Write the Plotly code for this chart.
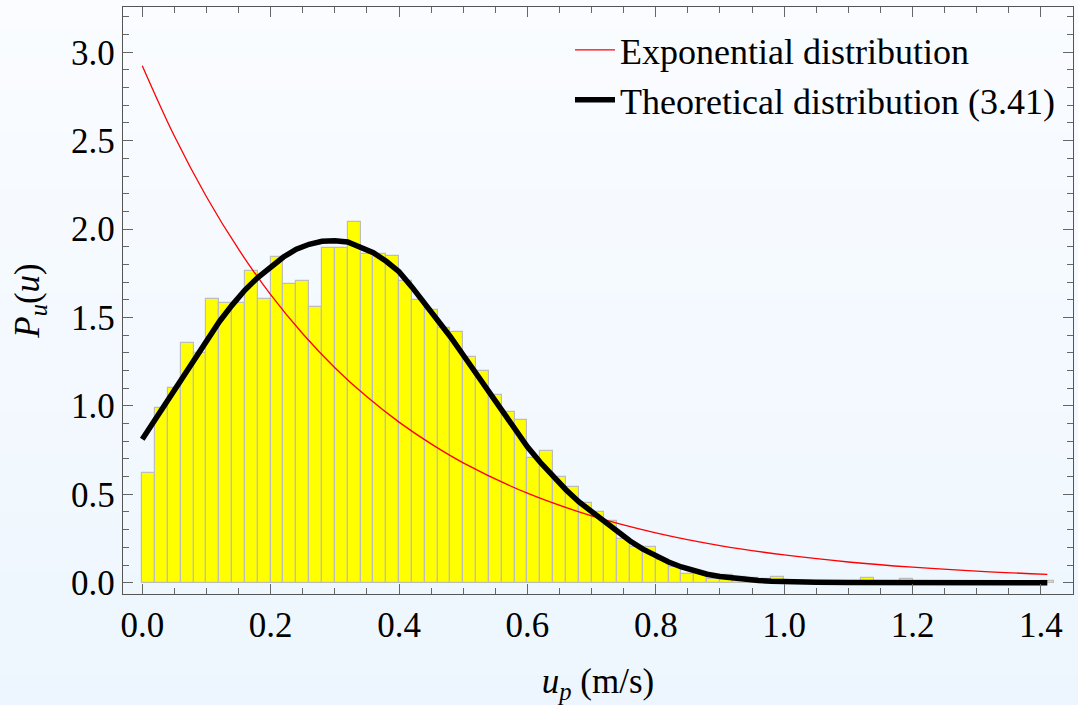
import plotly.graph_objects as go

# ---------------- data ----------------
bin_width = 0.02
bin_left = [round(i * bin_width, 2) for i in range(71)]
bar_heights = [
    0.619, 0.986, 1.103, 1.354, 1.297, 1.605, 1.580, 1.580, 1.763, 1.605,
    1.844, 1.688, 1.706, 1.561, 1.891, 1.891, 2.038, 1.860, 1.860, 1.848,
    1.706, 1.599, 1.542, 1.442, 1.420, 1.275, 1.199, 1.062, 0.967, 0.920,
    0.707, 0.745, 0.596, 0.540, 0.449, 0.402, 0.351, 0.245, 0.200, 0.204,
    0.126, 0.091, 0.048, 0.055, 0.023, 0.044, 0.034, 0.025, 0.020, 0.035,
    0.010, 0.008, 0.006, 0.005, 0.004, 0.004, 0.025, 0.003, 0.003, 0.019,
    0.002, 0.002, 0.002, 0.002, 0.002, 0.002, 0.002, 0.002, 0.002, 0.002,
    0.008,
]

exp_x = [0.0, 0.05, 0.10, 0.15, 0.20, 0.25, 0.30, 0.35, 0.40, 0.45, 0.50,
         0.60, 0.70, 0.80, 0.90, 1.00, 1.10, 1.20, 1.30, 1.41]
exp_y = [2.924, 2.526, 2.183, 1.886, 1.629, 1.408, 1.216, 1.051, 0.908, 0.785,
         0.678, 0.506, 0.378, 0.282, 0.210, 0.157, 0.117, 0.0875, 0.0653, 0.0474]

theo_x = [0.00, 0.02, 0.04, 0.06, 0.08, 0.10, 0.12, 0.14, 0.16, 0.18,
          0.20, 0.22, 0.24, 0.26, 0.28, 0.30, 0.32, 0.34, 0.36, 0.38,
          0.40, 0.42, 0.44, 0.46, 0.48, 0.50, 0.52, 0.54, 0.56, 0.58,
          0.60, 0.62, 0.64, 0.66, 0.68, 0.70, 0.72, 0.74, 0.76, 0.78,
          0.80, 0.82, 0.84, 0.86, 0.88, 0.90, 0.92, 0.94, 0.96, 0.98,
          1.00, 1.05, 1.10, 1.20, 1.30, 1.41]
theo_y = [0.811, 0.921, 1.033, 1.147, 1.260, 1.370, 1.476, 1.570, 1.655, 1.726,
          1.787, 1.842, 1.886, 1.914, 1.931, 1.934, 1.927, 1.900, 1.866, 1.818,
          1.759, 1.673, 1.580, 1.487, 1.391, 1.288, 1.184, 1.080, 0.977, 0.871,
          0.769, 0.681, 0.600, 0.526, 0.458, 0.400, 0.342, 0.287, 0.236, 0.190,
          0.151, 0.117, 0.089, 0.066, 0.048, 0.035, 0.025, 0.017, 0.012, 0.008,
          0.005, 0.003, 0.001, 0.0, 0.0, 0.0]

legend_names = ["Exponential distribution", "Theoretical distribution (3.41)"]
x_title = "<i>u</i><sub><i>p</i></sub> (m/s)"
y_title = "<i>P</i><sub><i>u</i></sub>(<i>u</i>)"

# ---------------- figure ----------------
W, H = 1078, 705
ML, MR, MT, MB = 123, 5, 7, 111
FONT = "Times New Roman, Liberation Serif, Times, serif"

fig = go.Figure()

fig.add_trace(go.Bar(
    x=[b + bin_width / 2 for b in bin_left], y=bar_heights, width=bin_width,
    marker=dict(color="#ffff00", line=dict(color="rgb(190,190,185)", width=1.2)),
    showlegend=False, hoverinfo="skip",
))
fig.add_trace(go.Scatter(
    x=exp_x, y=exp_y, mode="lines", name=legend_names[0],
    line=dict(color="#ff0000", width=1.3, shape="spline"),
))
fig.add_trace(go.Scatter(
    x=theo_x, y=theo_y, mode="lines", name=legend_names[1],
    line=dict(color="#000000", width=5.5),
))

# vertical gradient background via bands
plot_h = H - MT - MB
shapes = []
n = 48
top = (250, 252, 255)
bot = (237, 246, 254)
for i in range(n):
    p0 = H * i / n
    p1 = H * (i + 1) / n
    t = (i + 0.5) / n
    c = tuple(round(top[k] + (bot[k] - top[k]) * t) for k in range(3))
    shapes.append(dict(
        type="rect", xref="paper", yref="paper", layer="below",
        x0=-0.5, x1=1.5,
        y0=(H - MB - p1) / plot_h - 0.001, y1=(H - MB - p0) / plot_h + 0.001,
        fillcolor="rgb(%d,%d,%d)" % c, line=dict(width=0),
    ))

axis_common = dict(
    showgrid=False, zeroline=False, showline=True, linecolor="#555555",
    linewidth=1.3, mirror="ticks", ticks="inside", ticklen=10, tickwidth=1.2,
    tickcolor="#666666", tickformat=".1f",
    tickfont=dict(family=FONT, size=35, color="black"),
)

fig.update_layout(
    width=W, height=H,
    margin=dict(l=ML, r=MR, t=MT, b=MB, pad=0),
    paper_bgcolor="rgb(243,249,255)",
    plot_bgcolor="rgba(0,0,0,0)",
    shapes=shapes,
    bargap=0,
    font=dict(family=FONT, size=35, color="black"),
    xaxis=dict(
        range=[-0.030, 1.450], dtick=0.2, tick0=0,
        minor=dict(dtick=0.05, ticks="inside", ticklen=6, tickcolor="#666666", tickwidth=1.1),
        title=dict(text=x_title, font=dict(family=FONT, size=35), standoff=24),
        **axis_common,
    ),
    yaxis=dict(
        range=[-0.064, 3.256], dtick=0.5, tick0=0,
        minor=dict(dtick=0.1, ticks="inside", ticklen=6, tickcolor="#666666", tickwidth=1.1),
        title=dict(text=y_title, font=dict(family=FONT, size=35), standoff=20),
        **axis_common,
    ),
    legend=dict(
        x=(570 - ML) / (W - ML - MR), y=(H - MB - 20) / plot_h,
        xanchor="left", yanchor="top",
        bgcolor="rgba(0,0,0,0)", borderwidth=0,
        font=dict(family=FONT, size=36, color="black"),
        itemwidth=40,
    ),
)

fig.write_html("out.html")
